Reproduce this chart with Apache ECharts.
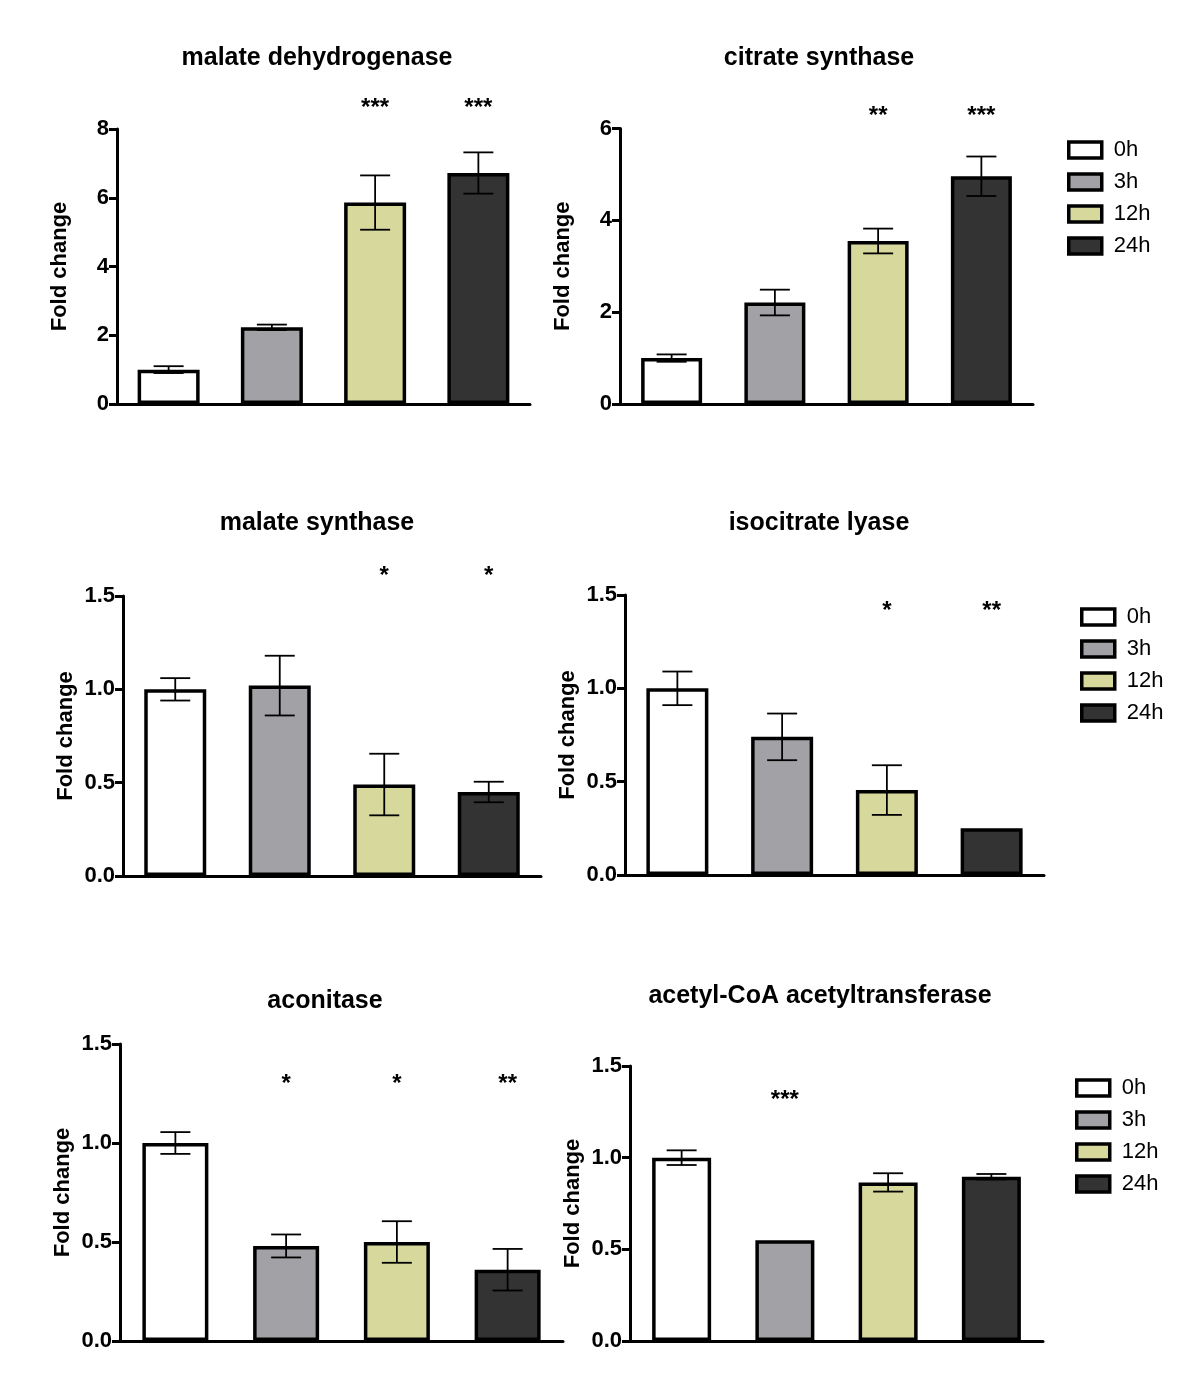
<!DOCTYPE html>
<html>
<head>
<meta charset="utf-8">
<script src="https://cdn.jsdelivr.net/npm/echarts@6/dist/echarts.min.js"></script>
<style>
html,body{margin:0;padding:0;background:#fff;}
#chart{width:1200px;height:1386px;}
</style>
</head>
<body>
<div id="chart"></div>
<script>
// ---------- data ----------
const groups = ['0h', '3h', '12h', '24h'];
const groupColors = ['#ffffff', '#a2a2a6', '#d7d89c', '#333333'];
const yLabel = 'Fold change';

const panelTitles = ['malate dehydrogenase', 'citrate synthase', 'malate synthase',
  'isocitrate lyase', 'aconitase', 'acetyl-CoA acetyltransferase'];

const mdhMean = [1.00, 2.23, 5.86, 6.72];
const mdhErr  = [0.10, 0.08, 0.79, 0.60];
const mdhSig  = ['', '', '***', '***'];

const csMean = [1.00, 2.21, 3.55, 4.96];
const csErr  = [0.08, 0.28, 0.27, 0.43];
const csSig  = ['', '', '**', '***'];

const msMean = [1.00, 1.02, 0.49, 0.45];
const msErr  = [0.06, 0.16, 0.165, 0.055];
const msSig  = ['', '', '*', '*'];

const iclMean = [1.00, 0.74, 0.455, 0.25];
const iclErr  = [0.09, 0.125, 0.133, 0];
const iclSig  = ['', '', '*', '**'];

const acoMean = [1.00, 0.48, 0.50, 0.36];
const acoErr  = [0.055, 0.058, 0.105, 0.105];
const acoSig  = ['', '*', '*', '**'];

const acatMean = [1.00, 0.55, 0.865, 0.896];
const acatErr  = [0.04, 0, 0.05, 0.015];
const acatSig  = ['', '***', '', ''];

const yMax  = [8, 6, 1.5, 1.5, 1.5, 1.5];
const yStep = [2, 2, 0.5, 0.5, 0.5, 0.5];
const sigLevel = [8.64, 6.29, 1.61, 1.42, 1.30, 1.32];

const means = [mdhMean, csMean, msMean, iclMean, acoMean, acatMean];
const errs  = [mdhErr, csErr, msErr, iclErr, acoErr, acatErr];
const sigs  = [mdhSig, csSig, msSig, iclSig, acoSig, acatSig];

// ---------- layout ----------
const FONT = '"Liberation Sans", Arial, Helvetica, sans-serif';
const layout = [
  {left:117, top:129,  width:413, height:275, barW:62, titleX:312, titleY:41},
  {left:620, top:128.5,width:413, height:275.5, barW:61, titleX:814, titleY:41},
  {left:123, top:596,  width:418, height:280, barW:62, titleX:312, titleY:506},
  {left:625, top:595,  width:419, height:280, barW:62, titleX:814, titleY:506},
  {left:120, top:1044, width:443, height:297, barW:66, titleX:320, titleY:984},
  {left:630, top:1066, width:413, height:275, barW:59, titleX:815, titleY:979}
];
const legendPos = [
  {left:1062, top:134},
  {left:1075, top:601},
  {left:1070, top:1072}
];

const chart = echarts.init(document.getElementById('chart'), null, {renderer:'canvas'});

const titles = [], grids = [], xAxes = [], yAxes = [], series = [];
layout.forEach((L, p) => {
  titles.push({
    text: panelTitles[p], left: L.titleX, top: L.titleY, textAlign: 'center',
    textStyle: {fontFamily: FONT, fontWeight: 'bold', fontSize: 25, color: '#000'}
  });
  grids.push({left: L.left, top: L.top, width: L.width, height: L.height, containLabel: false});
  xAxes.push({
    type: 'category', gridIndex: p, data: groups,
    axisLine: {show: true, lineStyle: {color: '#000', width: 3}},
    axisTick: {show: false}, axisLabel: {show: false}, splitLine: {show: false}
  });
  const step = yStep[p];
  yAxes.push({
    type: 'value', gridIndex: p, min: 0, max: yMax[p], interval: step,
    splitLine: {show: false},
    axisLine: {show: true, lineStyle: {color: '#000', width: 3}},
    axisTick: {show: true, length: 8, lineStyle: {color: '#000', width: 3}},
    axisLabel: {
      color: '#000', fontFamily: FONT, fontWeight: 'bold', fontSize: 22, margin: 8,
      formatter: v => step < 1 ? v.toFixed(1) : String(v)
    },
    name: yLabel, nameLocation: 'middle', nameGap: 46,
    nameTextStyle: {color: '#000', fontFamily: FONT, fontWeight: 'bold', fontSize: 22}
  });
  groups.forEach((g, k) => {
    series.push({
      name: g, type: 'bar', xAxisIndex: p, yAxisIndex: p,
      barWidth: L.barW, barGap: '-100%',
      data: means[p].map((v, j) => j === k ? v : '-'),
      itemStyle: {color: groupColors[k], borderColor: '#000', borderWidth: 3.5},
      z: 2
    });
  });
  // error bars
  series.push({
    type: 'custom', xAxisIndex: p, yAxisIndex: p, z: 5, silent: true,
    data: means[p].map((m, k) => [k, m, errs[p][k]]),
    renderItem: (params, api) => {
      const k = api.value(0), m = api.value(1), e = api.value(2);
      if (!e) return {type: 'group', children: []};
      const t = api.coord([k, m + e]), b = api.coord([k, m - e]);
      const hw = 15, st = {stroke: '#000', lineWidth: 1.8};
      return {type: 'group', children: [
        {type: 'line', shape: {x1: t[0], y1: t[1], x2: b[0], y2: b[1]}, style: st},
        {type: 'line', shape: {x1: t[0] - hw, y1: t[1], x2: t[0] + hw, y2: t[1]}, style: st},
        {type: 'line', shape: {x1: b[0] - hw, y1: b[1], x2: b[0] + hw, y2: b[1]}, style: st}
      ]};
    }
  });
  // significance marks
  series.push({
    type: 'custom', xAxisIndex: p, yAxisIndex: p, z: 6, silent: true,
    data: sigs[p].map((s, k) => [k, sigLevel[p]]),
    renderItem: (params, api) => {
      const label = sigs[p][params.dataIndex];
      if (!label) return {type: 'group', children: []};
      const c = api.coord([api.value(0), api.value(1)]);
      return {type: 'text', x: c[0], y: c[1] + 1, style: {
        text: label, fill: '#000', fontFamily: FONT, fontWeight: 'bold', fontSize: 24,
        align: 'center', verticalAlign: 'middle'
      }};
    }
  });
});

const legends = legendPos.map(P => ({
  data: groups, orient: 'vertical', left: P.left, top: P.top,
  icon: 'rect', itemWidth: 33, itemHeight: 16, itemGap: 10, selectedMode: false,
  itemStyle: {borderColor: '#000', borderWidth: 3.5},
  textStyle: {color: '#000', fontFamily: FONT, fontSize: 22, padding: [0, 0, 0, 7]}
}));

chart.setOption({
  animation: false,
  backgroundColor: '#ffffff',
  title: titles,
  grid: grids,
  xAxis: xAxes,
  yAxis: yAxes,
  legend: legends,
  tooltip: {show: false},
  series: series
});
</script>
</body>
</html>
